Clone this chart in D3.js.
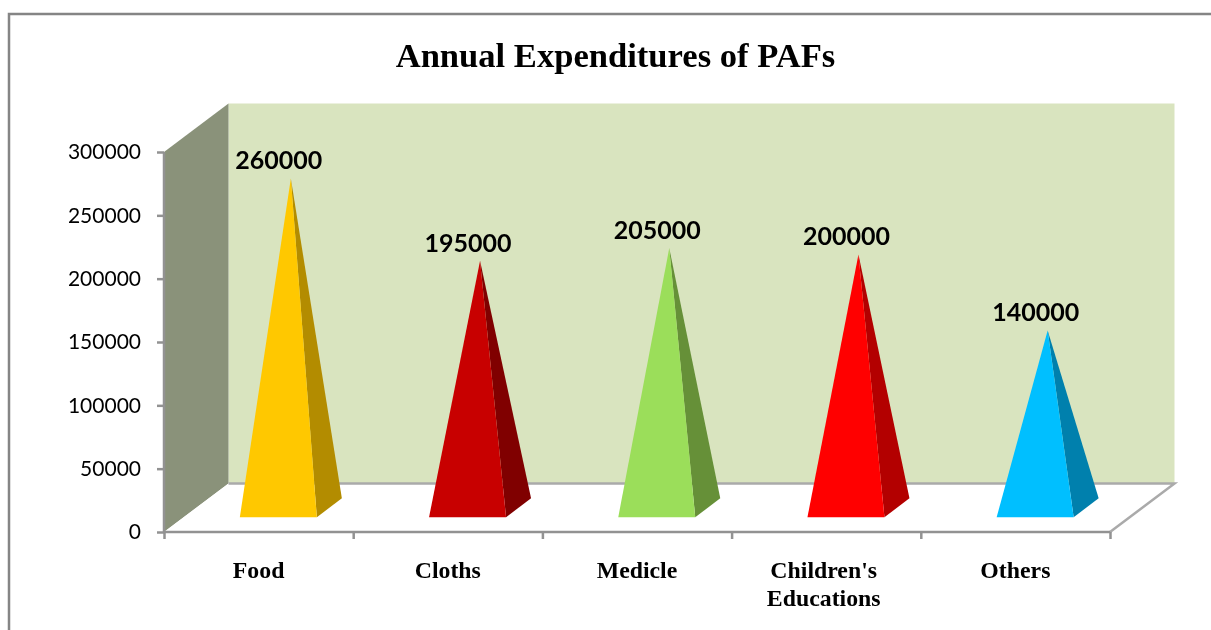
<!DOCTYPE html>
<html>
<head>
<meta charset="utf-8">
<script src="https://cdn.jsdelivr.net/npm/d3@7"></script>
<style>
  html, body { margin: 0; background: #fff; }
  svg { display: block; }
</style>
</head>
<body>
<svg id="chart"></svg>
<script>
const width = 1211;
const height = 630;

const categories = ["Food", "Cloths", "Medicle", "Children's\nEducations", "Others"];
const values = [260000, 195000, 205000, 200000, 140000];
const frontColors = ["#ffc800", "#c80000", "#9bde5a", "#ff0000", "#00bfff"];
const sideColors = ["#b38c00", "#800000", "#669038", "#b30000", "#0080ad"];
const yTicks = [0, 50000, 100000, 150000, 200000, 250000, 300000];

const x = d3.scaleBand().domain(categories).range([164, 1110]);
const y = d3.scaleLinear().domain([0, 300000]).range([532, 152]);

// depth of the 3d box
const depthX = 64.5;
const depthY = -48.5;
const halfBase = 38.5;
const baseDx = 12.5;
const baseDy = -9.5;

const svg = d3.select("#chart")
    .attr("width", width)
    .attr("height", height)
    .attr("viewBox", [0, 0, width, height]);

// the reference is a soft upscaled image, so everything gets a light blur
svg.append("filter")
    .attr("id", "soft")
    .attr("filterUnits", "userSpaceOnUse")
    .attr("x", 0).attr("y", 0).attr("width", width).attr("height", height)
  .append("feGaussianBlur")
    .attr("stdDeviation", 0.6);

const root = svg.append("g").attr("filter", "url(#soft)");

const line = d3.line();

root.append("path")
    .attr("d", `M9,630V14H1211`)
    .attr("fill", "none")
    .attr("stroke", "#858585")
    .attr("stroke-width", 2.5);

root.append("text")
    .attr("x", 615.5)
    .attr("y", 67)
    .attr("text-anchor", "middle")
    .style("font", "bold 34.6px 'Liberation Serif'")
    .text("Annual Expenditures of PAFs");

// back wall, side wall, floor
const x0 = x.range()[0], x1 = x.range()[1];
const y0 = y(0), yTop = y(300000);

root.append("path")
    .attr("d", line([[x0 + depthX, yTop + depthY], [x1 + depthX, yTop + depthY], [x1 + depthX, y0 + depthY], [x0 + depthX, y0 + depthY]]) + "Z")
    .attr("fill", "#d9e4bf");
root.append("path")
    .attr("d", line([[x0, yTop], [x0 + depthX, yTop + depthY], [x0 + depthX, y0 + depthY], [x0, y0]]) + "Z")
    .attr("fill", "#8a927a");
root.append("path")
    .attr("d", line([[x0, y0], [x0 + depthX, y0 + depthY], [x1 + depthX, y0 + depthY], [x1, y0]]) + "Z")
    .attr("fill", "#fff");
root.append("path")
    .attr("d", line([[x0 + depthX, y0 + depthY], [x1 + depthX, y0 + depthY], [x1, y0]]))
    .attr("fill", "none")
    .attr("stroke", "#aaa")
    .attr("stroke-width", 2.5);

// axes
const yAxis = root.append("g")
    .attr("transform", `translate(${x0},0)`)
    .call(d3.axisLeft(y).tickValues(yTicks).tickSize(7).tickPadding(16).tickFormat(d3.format("d")));
yAxis.selectAll("text").style("font", "21px Lato").attr("fill", "#000");

const xAxis = root.append("g")
    .attr("transform", `translate(0,${y0})`)
    .call(d3.axisBottom(d3.scaleLinear([0, categories.length], [x0, x1])).ticks(categories.length).tickSize(7).tickFormat(""));

root.selectAll(".domain, .tick line")
    .attr("stroke", "#929292")
    .attr("stroke-width", 2.5);
yAxis.select(".domain").attr("d", `M0,${yTop}V${y0}`);
xAxis.select(".domain").attr("d", `M${x0},0H${x1}`);

// pyramids
const bars = root.append("g")
  .selectAll("g")
  .data(categories.map((c, i) => ({ c, v: values[i], front: frontColors[i], side: sideColors[i] })))
  .join("g");

const center = d => [x(d.c) + x.bandwidth() / 2 + depthX / 2, y0 + depthY / 2];
const apex = d => [center(d)[0], y(d.v) + depthY / 2];
const fl = d => [center(d)[0] - baseDx - halfBase, center(d)[1] - baseDy];
const fr = d => [center(d)[0] - baseDx + halfBase, center(d)[1] - baseDy];
const br = d => [center(d)[0] + baseDx + halfBase, center(d)[1] + baseDy];

bars.append("path")
    .attr("d", d => line([fr(d), br(d), apex(d)]) + "Z")
    .attr("fill", d => d.side);
bars.append("path")
    .attr("d", d => line([fl(d), fr(d), apex(d)]) + "Z")
    .attr("fill", d => d.front);

bars.append("text")
    .attr("x", d => apex(d)[0] - 12)
    .attr("y", d => apex(d)[1] - 9)
    .attr("text-anchor", "middle")
    .style("font", "bold 25px Lato")
    .text(d => d.v);

// category labels, one tspan per line
root.append("g")
  .selectAll("text")
  .data(categories)
  .join("text")
    .attr("text-anchor", "middle")
    .style("font", "bold 23.8px 'Liberation Serif'")
  .selectAll("tspan")
  .data(d => d.split("\n").map(t => ({ t, c: d })))
  .join("tspan")
    .attr("x", d => x(d.c) + x.bandwidth() / 2 - (d.c.includes("\n") ? 2.5 : 0))
    .attr("y", (d, i) => 578 + i * 28)
    .text(d => d.t);
</script>
</body>
</html>
